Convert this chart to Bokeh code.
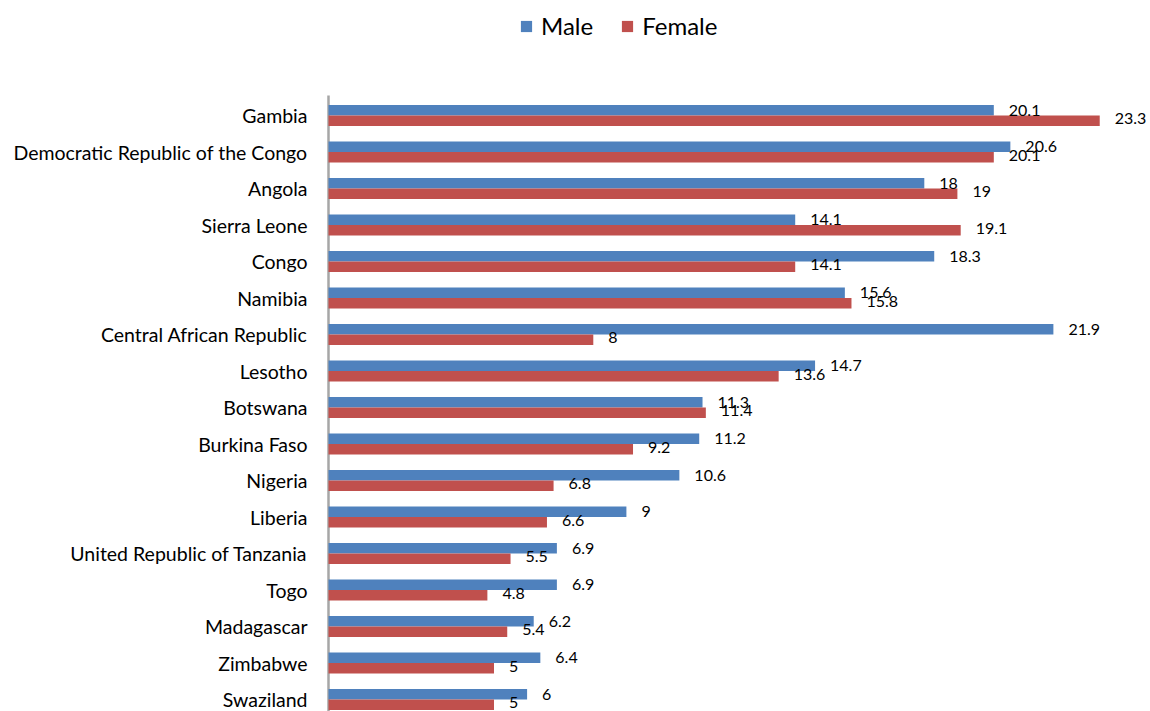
from bokeh.plotting import figure
from bokeh.models import ColumnDataSource, Range1d, FixedTicker, Legend, LegendItem, LabelSet
from bokeh.core.properties import value
from bokeh.embed import file_html
from bokeh.resources import INLINE

countries = ["Gambia", "Democratic Republic of the Congo", "Angola", "Sierra Leone", "Congo",
             "Namibia", "Central African Republic", "Lesotho", "Botswana", "Burkina Faso",
             "Nigeria", "Liberia", "United Republic of Tanzania", "Togo", "Madagascar",
             "Zimbabwe", "Swaziland"]
male = [20.1, 20.6, 18, 14.1, 18.3, 15.6, 21.9, 14.7, 11.3, 11.2, 10.6, 9, 6.9, 6.9, 6.2, 6.4, 6]
female = [23.3, 20.1, 19, 19.1, 14.1, 15.8, 8, 13.6, 11.4, 9.2, 6.8, 6.6, 5.5, 4.8, 5.4, 5, 5]

FONT = "Lato"
BLUE = "#4F81BD"
RED = "#C0504D"
H = 0.29

ys = [-i for i in range(len(countries))]
src_m = ColumnDataSource(dict(y=[v + H / 2 for v in ys], v=male, lab=[f"{x:g}" for x in male]))
src_f = ColumnDataSource(dict(y=[v - H / 2 for v in ys], v=female, lab=[f"{x:g}" for x in female]))

x0 = -8 / 33.1
y_top = 115 / 36.5
y_bot = y_top - 711 / 36.5

p = figure(width=1150, height=711, output_backend="svg", toolbar_location=None,
           x_range=Range1d(x0, x0 + 830 / 33.1), y_range=Range1d(y_bot, y_top),
           min_border_left=320, min_border_top=0, min_border_right=0, min_border_bottom=0,
           outline_line_color=None)

# vertical category axis line
p.segment(x0=[0], y0=[(115 - 95) / 36.5], x1=[0], y1=[y_bot], line_color="#A6A6A6", line_width=2.5)

rm = p.hbar(y="y", right="v", left=0, height=H, source=src_m, fill_color=BLUE, line_color=None)
rf = p.hbar(y="y", right="v", left=0, height=H, source=src_f, fill_color=RED, line_color=None)

for src, yoff in ((src_m, 0), (src_f, 2)):
    p.add_layout(LabelSet(x="v", y="y", text="lab", source=src, x_offset=15, y_offset=yoff,
                          text_align="left", text_baseline="middle", text_font=value(FONT),
                          text_font_size="16px", text_color="#000000"))

p.xaxis.visible = False
p.xgrid.visible = False
p.ygrid.visible = False

ya = p.yaxis[0]
ya.ticker = FixedTicker(ticks=ys)
ya.major_label_overrides = {y: c for y, c in zip(ys, countries)}
ya.major_tick_line_color = None
ya.minor_tick_line_color = None
ya.axis_line_color = None
ya.major_label_standoff = 7
ya.major_label_text_font = FONT
ya.major_label_text_font_size = "19.5px"
ya.major_label_text_color = "#000000"

legend = Legend(items=[LegendItem(label="Male", renderers=[rm]),
                       LegendItem(label="Female", renderers=[rf])],
                orientation="horizontal", location=(199, 711 - 25 - 15),
                glyph_width=14, glyph_height=14, label_standoff=8, spacing=27,
                padding=0, margin=0, border_line_color=None, background_fill_alpha=0,
                label_text_font=FONT, label_text_font_size="24px", label_text_color="#000000",
                label_height=14)
p.add_layout(legend, "center")

open("out.html", "w").write(file_html(p, INLINE))
